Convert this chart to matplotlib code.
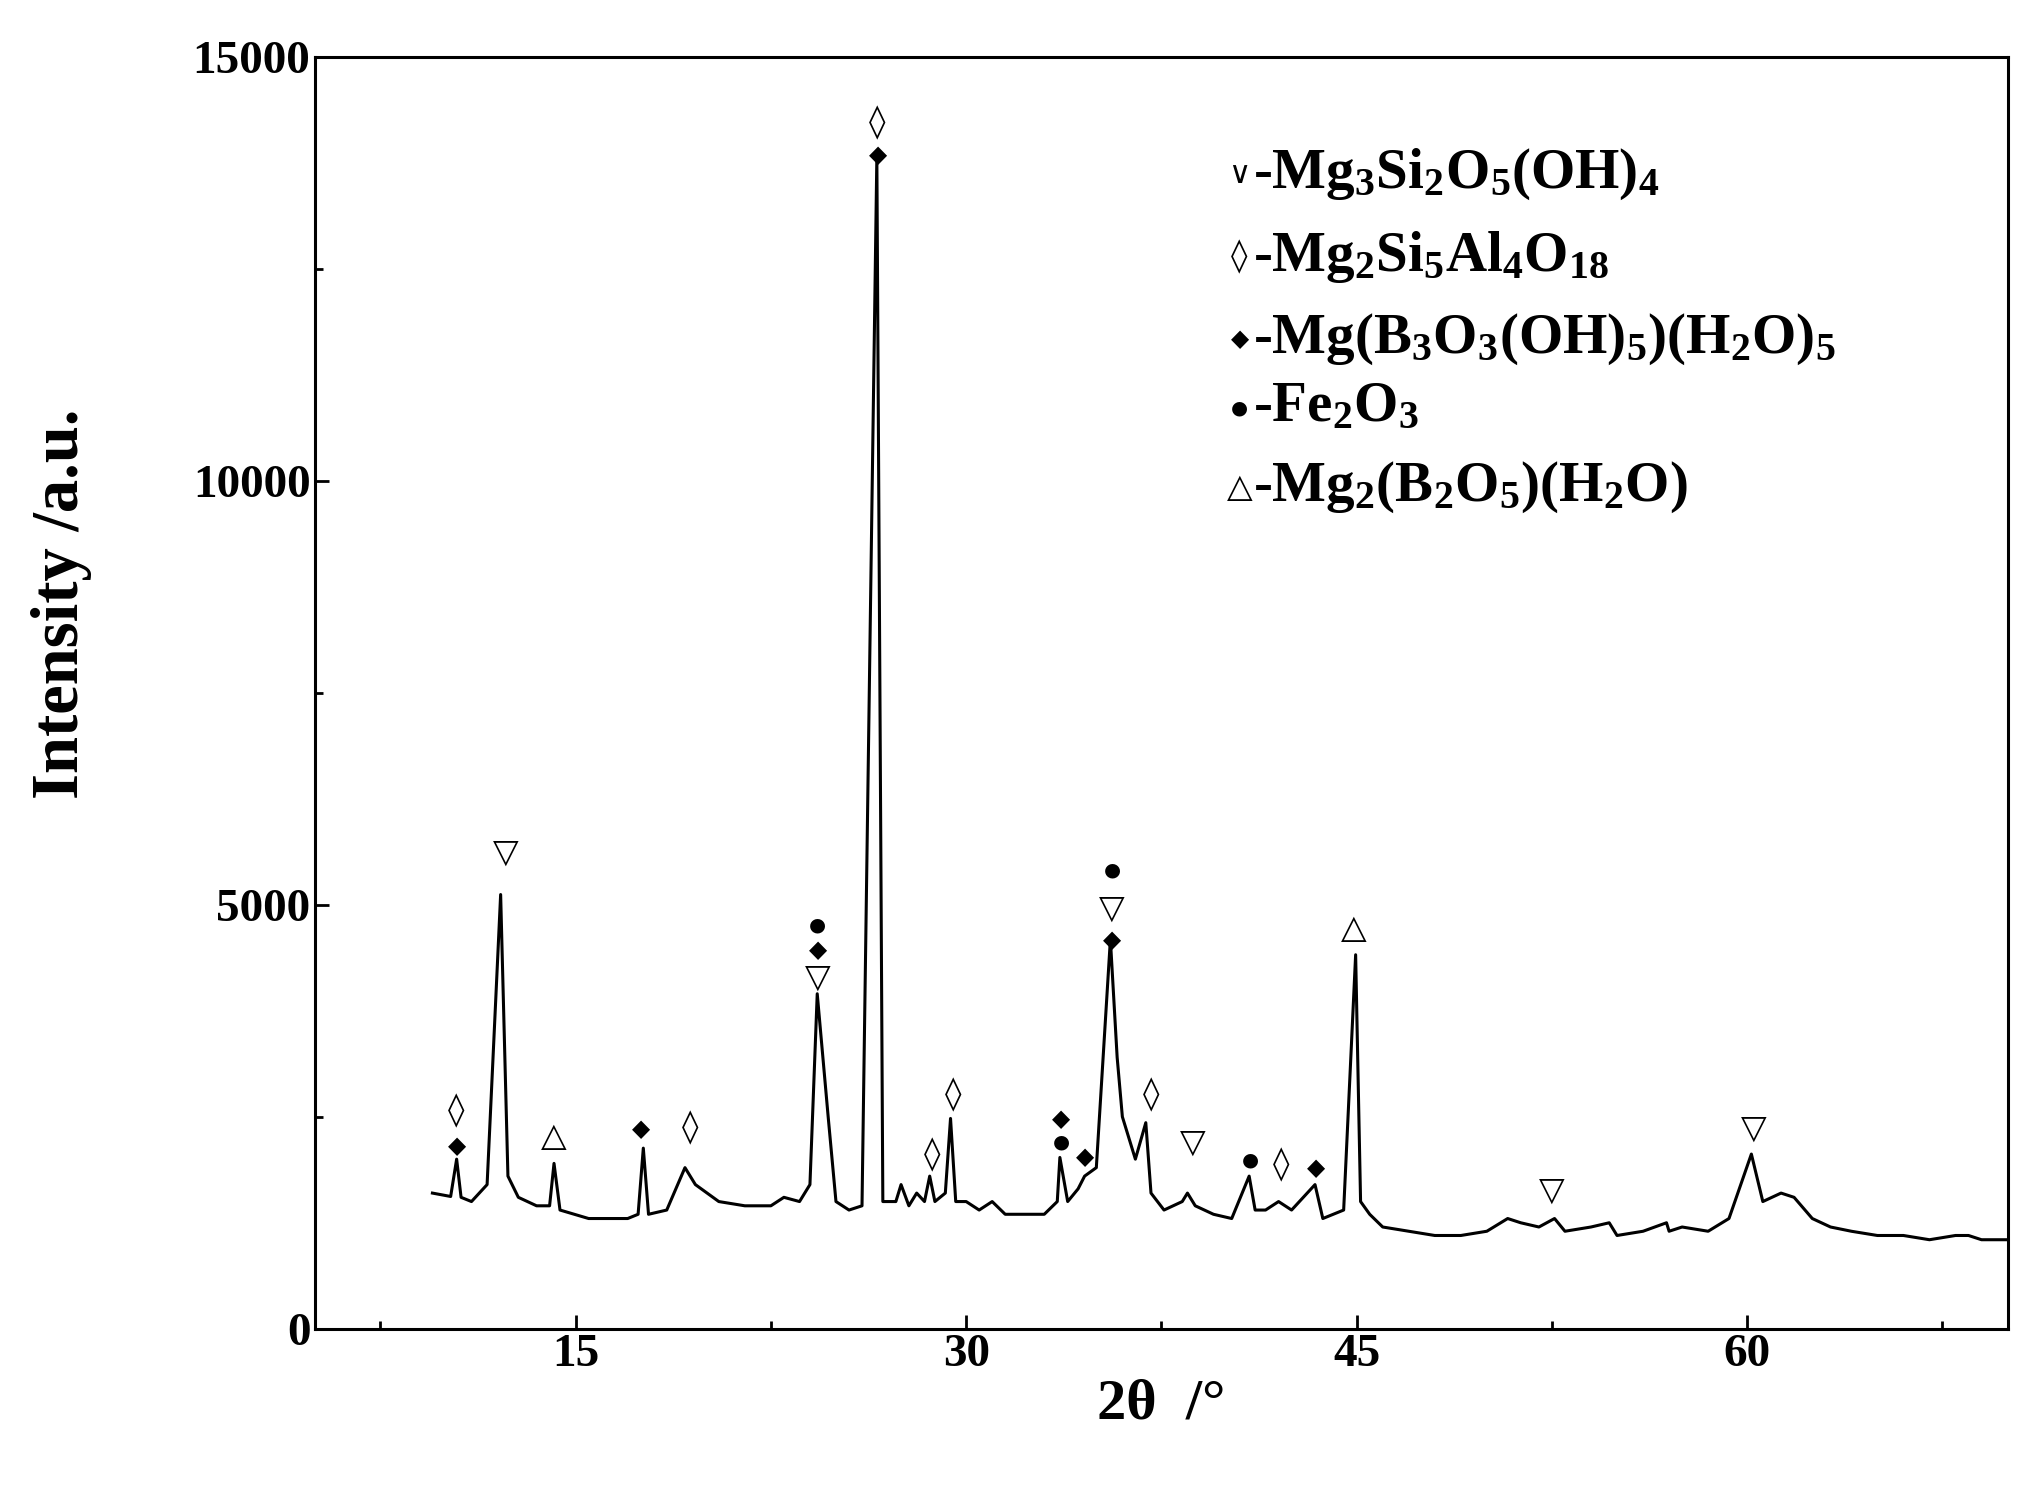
import matplotlib
matplotlib.use("Agg")
import matplotlib.pyplot as plt
from matplotlib.ticker import MultipleLocator

plt.rcParams["font.family"] = ["Liberation Serif", "DejaVu Serif"]
plt.rcParams["font.weight"] = "bold"
plt.rcParams["mathtext.fontset"] = "custom"
plt.rcParams["mathtext.rm"] = "Liberation Serif:bold"

# XRD trace vertices (2theta, intensity)
two_theta = [9.5, 10.2, 10.43, 10.6, 11, 11.6, 12.12, 12.4, 12.8, 13.5, 14.0, 14.17, 14.4, 15.5, 17, 17.4,
             17.6, 17.8, 18.5, 19.2, 19.6, 20.5, 21.5, 22.5, 23, 23.6, 24, 24.28, 24.7, 25, 25.5, 26,
             26.57, 26.8, 27.3, 27.5, 27.8, 28.1, 28.4, 28.6, 28.8, 29.2, 29.4, 29.6, 30, 30.5, 31,
             31.5, 32.3, 33, 33.5, 33.6, 33.9, 34.3, 34.55, 35, 35.54, 35.8, 36, 36.5, 36.9, 37.1,
             37.6, 38.3, 38.5, 38.8, 39.5, 40.2, 40.87, 41.1, 41.5, 42, 42.5, 43.4, 43.7, 44.5, 44.96,
             45.15, 45.5, 46, 47, 48, 49, 50, 50.8, 51.3, 52, 52.6, 53, 54, 54.7, 55, 56, 56.9, 57,
             57.5, 58.5, 59.3, 60.16, 60.6, 61.3, 61.8, 62.5, 63.2, 64, 65, 66, 67, 68, 68.5, 69, 70]
intensity = [1600, 1560, 2000, 1550, 1500, 1700, 5120, 1800, 1550, 1450, 1450, 1950, 1400, 1300, 1300, 1350,
             2130, 1350, 1400, 1900, 1700, 1500, 1450, 1450, 1550, 1500, 1700, 3950, 2500, 1500, 1400, 1450,
             13810, 1500, 1500, 1700, 1450, 1600, 1500, 1800, 1500, 1600, 2480, 1500, 1500, 1400, 1500,
             1350, 1350, 1350, 1500, 2020, 1500, 1650, 1800, 1900, 4590, 3200, 2500, 2000, 2430, 1600,
             1400, 1500, 1600, 1450, 1350, 1300, 1800, 1400, 1400, 1500, 1400, 1700, 1300, 1400, 4410,
             1500, 1350, 1200, 1150, 1100, 1100, 1150, 1300, 1250, 1200, 1300, 1150, 1200, 1250, 1100, 1150, 1250, 1150,
             1200, 1150, 1300, 2060, 1500, 1600, 1550, 1300, 1200, 1150, 1100, 1100, 1050, 1100, 1100, 1050, 1050]

# phase markers: x, y, symbol
mark_x = [10.43, 10.43, 12.3, 14.17, 17.5, 19.4, 24.3, 24.3, 24.3, 26.6, 26.6, 28.7, 29.5, 33.65, 33.65,
          34.55, 35.6, 35.6, 35.6, 37.1, 38.7, 40.9, 42.1, 43.45, 44.9, 52.5, 60.25]
mark_y = [2570, 2160, 5620, 2270, 2360, 2370, 4760, 4470, 4150, 14220, 13840, 2050, 2760, 2470, 2200,
          2020, 5410, 4960, 4580, 2760, 2200, 1990, 1930, 1900, 4720, 1630, 2370]
mark_s = ["◊", "◆", "▽", "△", "◆", "◊", "●", "◆", "▽", "◊", "◆", "◊", "◊", "◆", "●",
          "◆", "●", "▽", "◆", "◊", "▽", "●", "◊", "◆", "△", "▽", "▽"]
mark_size = {"◊": 24, "▽": 24, "△": 24, "◆": 17, "●": 14}

legend_syms = ["∨", "◊", "◆", "●", "△"]
legend_labels = [r"-$\mathregular{Mg_3Si_2O_5(OH)_4}$",
                 r"-$\mathregular{Mg_2Si_5Al_4O_{18}}$",
                 r"-$\mathregular{Mg(B_3O_3(OH)_5)(H_2O)_5}$",
                 r"-$\mathregular{Fe_2O_3}$",
                 r"-$\mathregular{Mg_2(B_2O_5)(H_2O)}$"]
legend_y = [13610, 12640, 11670, 10860, 9920]

fig = plt.figure(figsize=(20.34, 14.88), dpi=100)
ax = fig.add_axes([0.155, 0.107, 0.832, 0.855])
ax.plot(two_theta, intensity, color="black", linewidth=2.2)
for x, y, s in zip(mark_x, mark_y, mark_s):
    ax.text(x, y, s, ha="center", va="center", fontsize=mark_size[s], fontweight="normal",
            family=["DejaVu Sans"])
for sym, s, y in zip(legend_syms, legend_labels, legend_y):
    ax.text(40.5, y, sym, ha="center", va="center", fontsize=mark_size.get(sym, 22),
            fontweight="normal", family=["DejaVu Sans"])
    ax.text(41.0, y, s, ha="left", va="center", fontsize=41)

ax.set_xlim(5, 70)
ax.set_ylim(0, 15000)
ax.xaxis.set_major_locator(MultipleLocator(15))
ax.xaxis.set_minor_locator(MultipleLocator(7.5))
ax.yaxis.set_major_locator(MultipleLocator(5000))
ax.yaxis.set_minor_locator(MultipleLocator(2500))
ax.tick_params(which="both", direction="in", width=2, labelsize=34)
ax.tick_params(which="major", length=10)
ax.tick_params(which="minor", length=6)
for lab in ax.get_xticklabels() + ax.get_yticklabels():
    lab.set_fontweight("bold")
for sp in ax.spines.values():
    sp.set_linewidth(2.2)
ax.set_xlabel("2θ  /°", fontsize=42, fontweight="bold", labelpad=2)
ax.set_ylabel("Intensity /a.u.", fontsize=48, fontweight="bold")
ax.yaxis.set_label_coords(-0.132, 0.57)

fig.savefig("out.png", dpi=100)
